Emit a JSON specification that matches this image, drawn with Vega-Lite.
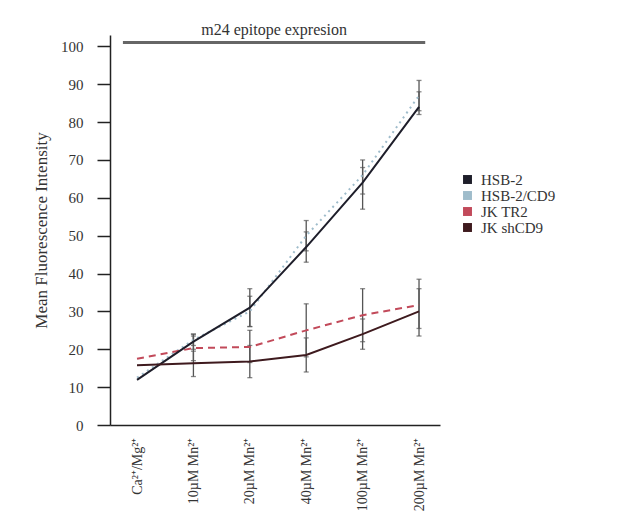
{
  "$schema": "https://vega.github.io/schema/vega-lite/v6.json",
  "autosize": "none",
  "width": 330,
  "height": 390,
  "padding": {"left": 110, "top": 35, "right": 192, "bottom": 103},
  "background": "white",
  "config": {
    "view": {"stroke": null},
    "font": "Liberation Serif",
    "axis": {"grid": false, "domainColor": "#222", "domainWidth": 1.5, "tickColor": "#222", "tickWidth": 1.5, "labelFont": "Liberation Serif", "titleFont": "Liberation Serif", "labelColor": "#333", "titleColor": "#333", "labelOverlap": false},
    "axisY": {"tickCount": 11, "tickSize": 13, "labelPadding": 14, "labelFontSize": 15, "titleFontSize": 17, "titleFontWeight": "normal", "titlePadding": 10},
    "legend": {"labelFont": "Liberation Serif", "labelFontSize": 15, "labelColor": "#333"}
  },
  "datasets": {
    "pts": [
      {"s": "HSB-2", "i": 0, "v": 11.9, "lo": 11.9, "hi": 11.9},
      {"s": "HSB-2", "i": 1, "v": 22, "lo": 20, "hi": 24},
      {"s": "HSB-2", "i": 2, "v": 31, "lo": 26, "hi": 36},
      {"s": "HSB-2", "i": 3, "v": 47, "lo": 43, "hi": 51},
      {"s": "HSB-2", "i": 4, "v": 64, "lo": 57, "hi": 68},
      {"s": "HSB-2", "i": 5, "v": 84, "lo": 82, "hi": 88},
      {"s": "HSB-2/CD9", "i": 0, "v": 12.5, "lo": 12.5, "hi": 12.5},
      {"s": "HSB-2/CD9", "i": 1, "v": 22.5, "lo": 21, "hi": 24},
      {"s": "HSB-2/CD9", "i": 2, "v": 30, "lo": 26, "hi": 34},
      {"s": "HSB-2/CD9", "i": 3, "v": 50, "lo": 46, "hi": 54},
      {"s": "HSB-2/CD9", "i": 4, "v": 66, "lo": 61, "hi": 70},
      {"s": "HSB-2/CD9", "i": 5, "v": 87, "lo": 83, "hi": 91},
      {"s": "JK TR2", "i": 0, "v": 17.5, "lo": 17.5, "hi": 17.5},
      {"s": "JK TR2", "i": 1, "v": 20.3, "lo": 17, "hi": 23.5},
      {"s": "JK TR2", "i": 2, "v": 20.6, "lo": 16.5, "hi": 25},
      {"s": "JK TR2", "i": 3, "v": 25, "lo": 18, "hi": 32},
      {"s": "JK TR2", "i": 4, "v": 29, "lo": 22, "hi": 36},
      {"s": "JK TR2", "i": 5, "v": 31.7, "lo": 25.5, "hi": 38.5},
      {"s": "JK shCD9", "i": 0, "v": 15.8, "lo": 15.8, "hi": 15.8},
      {"s": "JK shCD9", "i": 1, "v": 16.3, "lo": 12.8, "hi": 19.5},
      {"s": "JK shCD9", "i": 2, "v": 16.8, "lo": 12.5, "hi": 21},
      {"s": "JK shCD9", "i": 3, "v": 18.5, "lo": 14, "hi": 23},
      {"s": "JK shCD9", "i": 4, "v": 24, "lo": 20, "hi": 28},
      {"s": "JK shCD9", "i": 5, "v": 30, "lo": 23.5, "hi": 36}
    ],
    "ttl": [
      {"label": "m24 epitope expresion", "xs": -0.25, "xe": 5.11, "xm": 2.43, "yl": 101, "yt": 104.3}
    ]
  },
  "encoding": {
    "x": {
      "type": "quantitative",
      "scale": {"domain": [-0.479, 5.372], "nice": false, "zero": false},
      "axis": {
        "title": null, "ticks": false, "values": [0, 1, 2, 3, 4, 5],
        "labelAngle": 270, "labelPadding": 12, "labelFontSize": 14,
        "labelExpr": "['Ca²⁺/Mg²⁺','10µM Mn²⁺','20µM Mn²⁺','40µM Mn²⁺','100µM Mn²⁺','200µM Mn²⁺'][datum.value]"
      }
    },
    "y": {
      "type": "quantitative",
      "scale": {"domain": [0, 103], "nice": false},
      "axis": {"title": "Mean Fluorescence Intensity", "values": [0, 10, 20, 30, 40, 50, 60, 70, 80, 90, 100]}
    }
  },
  "layer": [
    {
      "data": {"name": "pts"},
      "transform": [{"filter": "datum.i > 0"}],
      "mark": {"type": "rule", "color": "#555", "strokeWidth": 1.3},
      "encoding": {
        "x": {"field": "i"},
        "y": {"field": "lo"},
        "y2": {"field": "hi"}
      }
    },
    {
      "data": {"name": "pts"},
      "transform": [{"filter": "datum.i > 0"}, {"fold": ["lo", "hi"], "as": ["k", "e"]}],
      "mark": {"type": "tick", "orient": "horizontal", "color": "#555", "size": 5, "thickness": 1.3},
      "encoding": {
        "x": {"field": "i"},
        "y": {"field": "e"}
      }
    },
    {
      "data": {"name": "pts"},
      "transform": [{"filter": "datum.s == 'HSB-2/CD9'"}],
      "mark": {"type": "line", "strokeWidth": 2, "strokeDash": [2, 4]},
      "encoding": {
        "x": {"field": "i"},
        "y": {"field": "v"},
        "color": {"field": "s", "type": "nominal"}
      }
    },
    {
      "data": {"name": "pts"},
      "transform": [{"filter": "datum.s == 'JK TR2'"}],
      "mark": {"type": "line", "strokeWidth": 2, "strokeDash": [7, 5]},
      "encoding": {
        "x": {"field": "i"},
        "y": {"field": "v"},
        "color": {"field": "s", "type": "nominal"}
      }
    },
    {
      "data": {"name": "pts"},
      "transform": [{"filter": "datum.s == 'HSB-2' || datum.s == 'JK shCD9'"}],
      "mark": {"type": "line", "strokeWidth": 2},
      "encoding": {
        "x": {"field": "i"},
        "y": {"field": "v"},
        "color": {
          "field": "s", "type": "nominal",
          "scale": {"domain": ["HSB-2", "HSB-2/CD9", "JK TR2", "JK shCD9"], "range": ["#1e1e2a", "#9fbccb", "#c24a5a", "#3e1a1e"]},
          "legend": {
            "title": null, "orient": "none", "legendX": 350, "legendY": 137,
            "symbolType": "square", "symbolSize": 80, "symbolOpacity": 1, "symbolStrokeWidth": 0,
            "symbolDash": [1, 0], "labelFont": "Liberation Serif", "labelFontSize": 15, "labelColor": "#333",
            "rowPadding": 0, "labelOffset": 6,
            "encode": {
              "symbols": {"update": {"fill": {"scale": "color", "field": "value"}, "strokeWidth": {"value": 0}, "opacity": {"value": 1}}},
              "labels": {"update": {"font": {"value": "Liberation Serif"}, "fontSize": {"value": 15}}}
            }
          }
        }
      }
    },
    {
      "data": {"name": "ttl"},
      "mark": {"type": "rule", "color": "#666", "strokeWidth": 3},
      "encoding": {
        "x": {"field": "xs"},
        "x2": {"field": "xe"},
        "y": {"field": "yl"}
      }
    },
    {
      "data": {"name": "ttl"},
      "mark": {"type": "text", "fontSize": 16, "font": "Liberation Serif", "color": "#333", "baseline": "middle"},
      "encoding": {
        "x": {"field": "xm"},
        "y": {"field": "yt"},
        "text": {"field": "label"}
      }
    }
  ]
}
